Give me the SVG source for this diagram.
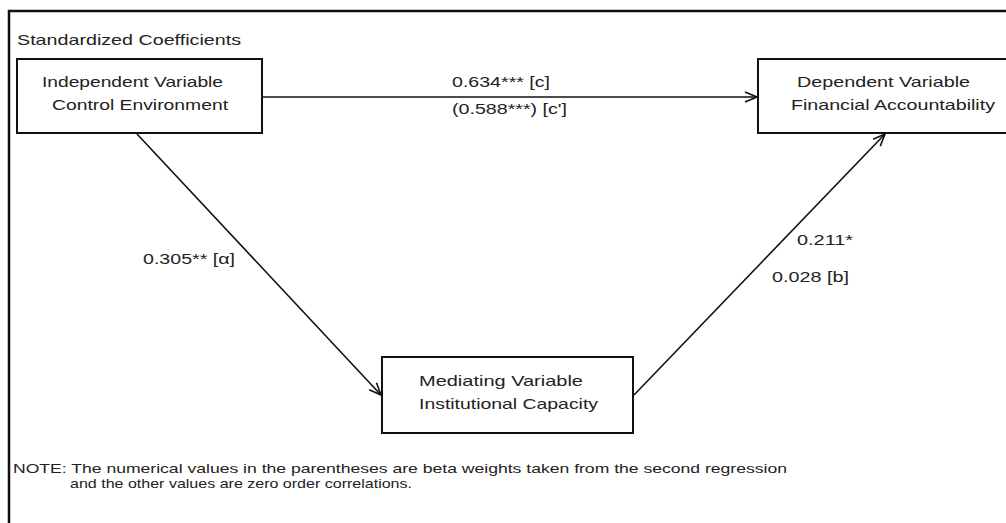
<svg xmlns="http://www.w3.org/2000/svg" width="1006" height="523" viewBox="0 0 1006 523">
<style>
text{font-family:"Liberation Sans",Arial,sans-serif;font-size:15px;fill:#222}
.note{font-size:13px}
.box{fill:#fff;stroke:#111;stroke-width:2}
.edge{stroke:#111;stroke-width:1.6;fill:none;marker-end:url(#arr)}
</style>
<defs>
<marker id="arr" markerUnits="userSpaceOnUse" markerWidth="16" markerHeight="14" refX="13" refY="6" orient="auto" viewBox="0 0 16 12">
<path d="M1,1 L13,6 L1,11" fill="none" stroke="#111" stroke-width="1.6"/>
</marker>
</defs>
<rect width="1006" height="523" fill="#fff"/>
<g id="frame">
<path d="M9,523 L9,11 L1006,11" fill="none" stroke="#111" stroke-width="2.5"/>
<text x="17" y="45" textLength="224" lengthAdjust="spacingAndGlyphs">Standardized Coefficients</text>
</g>
<g id="connectors">
<line class="edge" x1="263" y1="97" x2="757" y2="97"/>
<line class="edge" x1="137" y1="134" x2="381" y2="395"/>
<line class="edge" x1="634" y1="395" x2="885" y2="134"/>
<text x="452" y="87" textLength="98" lengthAdjust="spacingAndGlyphs">0.634*** [c]</text>
<text x="452" y="114" textLength="115" lengthAdjust="spacingAndGlyphs">(0.588***) [c']</text>
<text x="143" y="264" textLength="92" lengthAdjust="spacingAndGlyphs">0.305** [α]</text>
<text x="797" y="245" textLength="56" lengthAdjust="spacingAndGlyphs">0.211*</text>
<text x="772" y="282" textLength="77" lengthAdjust="spacingAndGlyphs">0.028 [b]</text>
</g>
<g id="independent">
<rect class="box" x="17" y="59" width="245" height="74"/>
<text x="42" y="87" textLength="181" lengthAdjust="spacingAndGlyphs">Independent Variable</text>
<text x="52" y="110" textLength="176" lengthAdjust="spacingAndGlyphs">Control Environment</text>
</g>
<g id="dependent">
<rect class="box" x="758" y="59" width="260" height="74"/>
<text x="797" y="87" textLength="173" lengthAdjust="spacingAndGlyphs">Dependent Variable</text>
<text x="791" y="110" textLength="204" lengthAdjust="spacingAndGlyphs">Financial Accountability</text>
</g>
<g id="mediating">
<rect class="box" x="382" y="357" width="251" height="76"/>
<text x="419" y="386" textLength="164" lengthAdjust="spacingAndGlyphs">Mediating Variable</text>
<text x="419" y="409" textLength="179" lengthAdjust="spacingAndGlyphs">Institutional Capacity</text>
</g>
<g id="note">
<text class="note" x="13" y="473" textLength="774" lengthAdjust="spacingAndGlyphs">NOTE: The numerical values in the parentheses are beta weights taken from the second regression</text>
<text class="note" x="70" y="488" textLength="342" lengthAdjust="spacingAndGlyphs">and the other values are zero order correlations.</text>
</g>
</svg>
